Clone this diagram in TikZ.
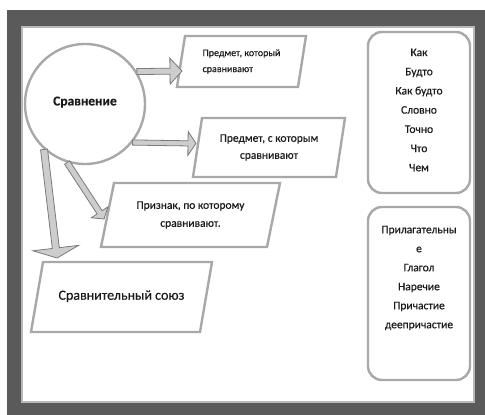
\documentclass[tikz,border=0pt]{standalone}
\usepackage{fontspec}
\setmainfont{Carlito}[UprightFeatures={FakeBold=0.4}]
\newfontfamily\circfont{Carlito Bold}[FakeBold=0.3]
\usetikzlibrary{calc}
\definecolor{framedark}{HTML}{5A5A5A}
\definecolor{innerline}{HTML}{B8B8B8}
\definecolor{shapeline}{HTML}{A8A8A8}
\definecolor{arrowfill}{HTML}{CDCDCD}
\definecolor{arrowline}{HTML}{7A7A7A}
\definecolor{textcol}{HTML}{1A1A1A}
\newcommand{\blockarrow}[5]{%
  \filldraw[blockarr]
    ($(#1)!#3!90:(#2)$) --
    ($(#2)!#5!(#1)!#3!90:(#2)$) --
    ($(#2)!#5!(#1)!#4!90:(#2)$) --
    (#2) --
    ($(#2)!#5!(#1)!#4!-90:(#2)$) --
    ($(#2)!#5!(#1)!#3!-90:(#2)$) --
    ($(#1)!#3!-90:(#2)$) -- cycle;}
% parallelogram outline round a rectangle node: #1 node name, #2 half of the slant offset
\newcommand{\paraoutline}[2]{%
  \draw[paraline] ($(#1.north west)+(#2,0)$) -- ($(#1.north east)+(#2,0)$) --
    ($(#1.south east)-(#2,0)$) -- ($(#1.south west)-(#2,0)$) -- cycle;}
\begin{document}
\begin{tikzpicture}[x=1pt,y=-1pt,
  every node/.style={text=textcol},
  parabody/.style={rectangle, draw=none, inner sep=0pt, outer sep=0pt, align=center},
  paraline/.style={draw=shapeline, line width=2.4pt, line join=miter},
  rbox/.style={rectangle, rounded corners=14pt, draw=shapeline, line width=2.4pt,
    fill=white, minimum width=102pt, inner sep=0pt},
  blockarr/.style={fill=arrowfill, draw=arrowline, line width=0.8pt, line join=miter}]
\useasboundingbox (0,0) rectangle (485,415);
\fill[white] (0,0) rectangle (485,415);
\fill[framedark] (7,10) rectangle (485,415);
\filldraw[fill=white, draw=innerline, line width=1.6pt] (22,27) rectangle (474,402);

% main circle
\node[circle, draw=shapeline, line width=2.4pt, fill=white, minimum size=120pt, inner sep=0pt,
  font=\fontsize{13.5}{16}\circfont] (circ) at (85,104) {\raisebox{6pt}{Сравнение}};

% parallelograms
\node[parabody, minimum width=121pt, minimum height=51pt,
  font=\fontsize{10}{16}\selectfont, align=left]
  (p1) at (241.5,61.5) {\raisebox{-3pt}{Предмет, который}\\\raisebox{-3pt}{сравнивают}};
\node[parabody, minimum width=143pt, minimum height=59pt, font=\fontsize{11.5}{17}\selectfont]
  (p2) at (269,147.5) {Предмет, с которым\\сравнивают};
\node[parabody, minimum width=166pt, minimum height=64pt, font=\fontsize{11.5}{18}\selectfont]
  (p3) at (190.5,215) {Признак, по которому\\сравнивают.};
\node[parabody, minimum width=169pt, minimum height=70pt, font=\fontsize{14}{16}\selectfont]
  (p4) at (121.5,297) {\raisebox{4pt}{Сравнительный союз}};
\paraoutline{p1}{4}
\paraoutline{p2}{4.5}
\paraoutline{p3}{6.5}
\paraoutline{p4}{6}

% right boxes
\node[rbox, minimum height=161pt] (ba) at (419,112.5) {};
\node[align=center, font=\fontsize{11.5}{19.2}\selectfont] (bat) at (419,110) {Как\\Будто\\Как будто\\Словно\\Точно\\Что\\Чем};
\node[rbox, minimum height=173pt] (bb) at (419,293.5) {};
\node[align=center, font=\fontsize{11.5}{19}\selectfont] (bbt) at (419,278) {Прилагательны\\е\\Глагол\\Наречие\\Причастие\\деепричастие};

% arrow end points
\coordinate (a1e) at (182,71);
\coordinate (a2e) at (196,143.5);
\coordinate (a3e) at (104,219);
\coordinate (a4e) at (57,258);

\blockarrow{circ.32}{a1e}{3pt}{13pt}{12pt}
\blockarrow{circ.-39}{a2e}{2.6pt}{12pt}{8pt}
\blockarrow{circ.-107}{a3e}{3pt}{10pt}{8pt}
\blockarrow{circ.-132}{a4e}{3.5pt}{23pt}{10pt}
\end{tikzpicture}
\end{document}
